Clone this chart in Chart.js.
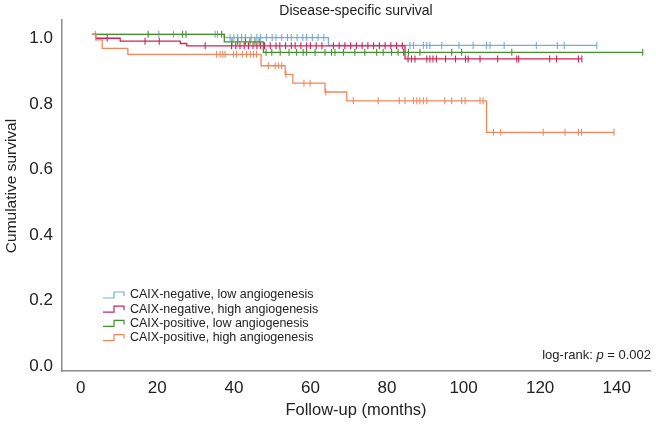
<!DOCTYPE html>
<html>
<head>
<meta charset="utf-8">
<script src="https://cdn.jsdelivr.net/npm/chart.js@4"></script>
<style>
html, body { margin: 0; padding: 0; background: #fff; }
</style>
</head>
<body>
<canvas id="grafico" width="656" height="426"></canvas>
<script>
// grupos e dados (meses / sobrevida acumulada)
const grupos = ["CAIX-negative, low angiogenesis", "CAIX-negative, high angiogenesis",
    "CAIX-positive, low angiogenesis", "CAIX-positive, high angiogenesis"];
const inicio = 3;
const xTicks = [0, 20, 40, 60, 80, 100, 120, 140];
const yTicks = [0.0, 0.2, 0.4, 0.6, 0.8, 1.0];

const negBaixaEventos = [37.5, 64.7];
const negBaixaSobrevida = [0.990, 0.966];
const negBaixaCensuras = [3.8, 20.4, 24.2, 35.1, 35.7, 39, 40, 41, 42, 43, 44.5, 46, 47, 48.5, 50, 51, 52.5,
    54, 55, 56.5, 58, 59, 60.5, 62, 63.5, 86, 86.9, 89.5, 90.4, 91.2, 94.3, 98.8, 102.5, 106, 106.9,
    110.6, 119, 124.5, 126.3, 134.8];

const negAltaEventos = [3.9, 10.3, 26, 27.7, 84.7];
const negAltaSobrevida = [0.988, 0.979, 0.972, 0.965, 0.925];
const negAltaCensuras = [6.9, 16.8, 20.5, 32.5, 39.4, 40.5, 41.6, 42.7, 43.8, 45, 46, 47, 48, 49.5, 51, 52,
    53.5, 55, 56, 57.5, 59, 60, 61.5, 63, 66, 67.5, 69, 70.5, 72, 73.5, 75, 76.5, 78, 79.5, 81, 82.5, 84,
    85.5, 86.4, 87.3, 90.4, 91.2, 92, 92.9, 95.3, 97.9, 100.5, 101.2, 104.3, 108.9, 113.9, 114.4,
    122.5, 124.3, 130, 130.9];

const posBaixaEventos = [37.5, 47.7];
const posBaixaSobrevida = [0.977, 0.945];
const posBaixaCensuras = [17.6, 26.6, 27.5, 36.8, 39.5, 41, 43, 44.2, 45.5, 46.6, 48.4, 49.9, 52.1, 54.4,
    56.4, 58.1, 59, 61.2, 63.8, 65.5, 66.4, 68.6, 71.6, 74.2, 77.3, 79, 81.2, 82.9, 84.3, 85.6, 88.6,
    96.9, 99.5, 112.6, 146.8];

const posAltaEventos = [3.9, 5.6, 12.3, 47.1, 53.4, 55.4, 63.8, 69.5, 106];
const posAltaSobrevida = [0.983, 0.957, 0.939, 0.904, 0.878, 0.851, 0.824, 0.797, 0.701];
const posAltaCensuras = [35.5, 36.4, 37.1, 37.7, 39.9, 40.7, 42.2, 43.3, 44.3, 45.1, 45.9, 49, 50.8, 51.6,
    52.5, 53.6, 58.3, 59.9, 64, 71.2, 77.7, 83.2, 84.7, 86.9, 87.8, 88.6, 89.5, 90.4, 95.1, 96.9, 99.5,
    100.4, 104.3, 105.1, 107.8, 109.7, 120.8, 126.5, 130, 130.8, 139.3];

const cores = ["#76abdd", "#cf2358", "#43912f", "#f2875c"];
const fonte = '"Liberation Sans", Arial, Helvetica, sans-serif';

function curva(eventos, sobrevida, censuras) {
    let pts = [{ x: inicio, y: 1 }];
    eventos.forEach((t, i) => pts.push({ x: t, y: sobrevida[i] }));
    pts.push({ x: Math.max(...censuras), y: sobrevida[sobrevida.length - 1] });
    return pts;
}
function nivel(t, eventos, sobrevida) {
    let s = 1;
    eventos.forEach((e, i) => { if (e <= t) s = sobrevida[i]; });
    return s;
}
function marcas(eventos, sobrevida, censuras) {
    return censuras.map(c => ({ x: c, y: nivel(c, eventos, sobrevida) }));
}

const series = [
    [negBaixaEventos, negBaixaSobrevida, negBaixaCensuras],
    [negAltaEventos, negAltaSobrevida, negAltaCensuras],
    [posBaixaEventos, posBaixaSobrevida, posBaixaCensuras],
    [posAltaEventos, posAltaSobrevida, posAltaCensuras]
];

let datasets = [];
series.forEach((s, i) => {
    datasets.push({
        type: "line",
        label: grupos[i],
        data: curva(s[0], s[1], s[2]),
        stepped: true,
        borderColor: cores[i],
        borderWidth: 1.3,
        pointRadius: 0,
        fill: false,
        order: 8 - 2 * i
    });
    datasets.push({
        type: "scatter",
        label: grupos[i] + " (censored)",
        data: marcas(s[0], s[1], s[2]),
        showLine: false,
        pointStyle: "line",
        rotation: 90,
        pointRadius: 3.5,
        pointBorderColor: cores[i],
        borderColor: cores[i],
        pointBorderWidth: 1.1,
        order: 7 - 2 * i
    });
});

const extras = {
    id: "extras",
    afterDraw(chart) {
        const ctx = chart.ctx;
        ctx.save();
        ctx.fillStyle = "#222";
        // titulo do eixo y
        ctx.save();
        ctx.translate(12, 186);
        ctx.rotate(-Math.PI / 2);
        ctx.font = "15.5px " + fonte;
        ctx.textAlign = "center";
        ctx.textBaseline = "middle";
        ctx.fillText("Cumulative survival", 0, 0);
        ctx.restore();

        // legenda
        ctx.font = "12.5px " + fonte;
        ctx.textAlign = "left";
        ctx.textBaseline = "middle";
        grupos.forEach((g, i) => {
            const y = 295 + i * 14.2;
            ctx.strokeStyle = cores[i];
            ctx.lineWidth = 1.2;
            ctx.beginPath();
            ctx.moveTo(103, y + 3);
            ctx.lineTo(114, y + 3);
            ctx.lineTo(114, y - 3);
            ctx.lineTo(124, y - 3);
            ctx.lineTo(124, y + 1);
            ctx.stroke();
            ctx.fillStyle = "#222";
            ctx.fillText(g, 130, y);
        });

        // log-rank
        const partes = [["log-rank: ", "normal"], ["p", "italic"], [" = 0.002", "normal"]];
        let larg = 0;
        partes.forEach(p => { ctx.font = p[1] + " 13px " + fonte; larg += ctx.measureText(p[0]).width; });
        let x = 651 - larg;
        partes.forEach(p => {
            ctx.font = p[1] + " 13px " + fonte;
            ctx.fillText(p[0], x, 355);
            x += ctx.measureText(p[0]).width;
        });
        ctx.restore();
    }
};

let ctx = document.getElementById("grafico").getContext("2d");

let grafico = new Chart(ctx, {
    data: { datasets: datasets },
    options: {
        responsive: false,
        devicePixelRatio: 1,
        animation: false,
        layout: { padding: { left: 0, right: 6, top: 0, bottom: 0 } },
        plugins: {
            legend: { display: false },
            tooltip: { enabled: false },
            title: {
                display: true,
                fullSize: false,
                text: "Disease-specific survival",
                color: "#222",
                font: { family: fonte, size: 14, weight: "normal" },
                padding: { top: 3, bottom: 0 }
            }
        },
        scales: {
            x: {
                type: "linear",
                min: -4.9,
                max: 148.7,
                afterFit: s => { s.height = 55; },
                afterBuildTicks: s => { s.ticks = xTicks.map(v => ({ value: v })); },
                grid: { display: false, drawTicks: false },
                border: { display: true, color: "#8c8c8c", width: 1.5 },
                ticks: { color: "#222", font: { family: fonte, size: 17 }, padding: 7 },
                title: {
                    display: true,
                    text: "Follow-up (months)",
                    color: "#222",
                    font: { family: fonte, size: 16.5 },
                    padding: { top: 0, bottom: 6 }
                }
            },
            y: {
                type: "linear",
                min: -0.0275,
                max: 1.0443,
                afterFit: s => { s.width = 62; },
                afterBuildTicks: s => { s.ticks = yTicks.map(v => ({ value: v })); },
                grid: { display: false, drawTicks: false },
                border: { display: true, color: "#8c8c8c", width: 1.5 },
                ticks: {
                    color: "#222",
                    font: { family: fonte, size: 17 },
                    padding: 9,
                    labelOffset: 4,
                    callback: v => v.toFixed(1)
                }
            }
        }
    },
    plugins: [extras]
});
</script>
</body>
</html>
